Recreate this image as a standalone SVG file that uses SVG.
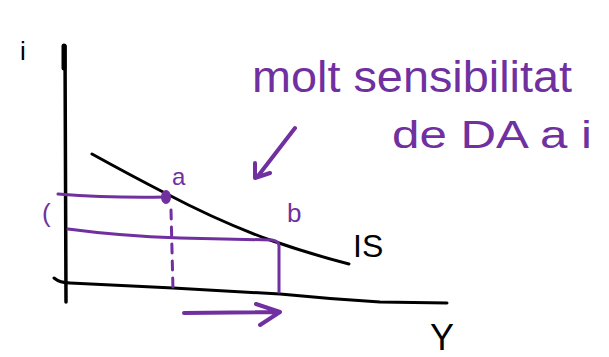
<svg xmlns="http://www.w3.org/2000/svg" width="609" height="357" viewBox="0 0 609 357">
<style>
.k{fill:none;stroke:#000;stroke-width:3;stroke-linecap:round;stroke-linejoin:round}
.p{fill:none;stroke:#7030A0;stroke-width:3;stroke-linecap:round;stroke-linejoin:round}
.tk{font-family:"Liberation Sans",Arial,sans-serif;fill:#000}
.tp{font-family:"Liberation Sans",Arial,sans-serif;fill:#7030A0}
</style>
<rect width="609" height="357" fill="#fff"/>
<g id="axes">
<path class="k" d="M65,46 L66,302" style="stroke-width:3.5"/>
<path class="k" d="M64,46 L64,68" style="stroke-width:5"/>
<path class="k" d="M54,278 Q60,283 70,283 L173,288 L280,294 Q330,299 380,302 L447,303"/>
</g>
<g id="is-curve">
<path class="k" d="M92,154 Q130,175 165,193 Q220,222 270,240 Q310,254 349,264"/>
</g>
<g id="labels-black">
<text class="tk" x="20" y="60" font-size="26">i</text>
<text class="tk" x="353" y="257" font-size="32">IS</text>
<text class="tk" x="430" y="350" font-size="36">Y</text>
</g>
<g id="connectors">
<path class="p" d="M58,194 Q110,198 165,197"/>
<path class="p" d="M68,229 Q120,236 180,238 L272,240 Q279,241 279,246 L279,292"/>
<path class="p" d="M171,210 L173,290" stroke-dasharray="9,8"/>
<path class="p" d="M184,313 L280,312 M256,304 L280,312 L260,325" style="stroke-width:4"/>
<path class="p" d="M295,128 L258,176 M255,163 L255,178 L270,173" style="stroke-width:4"/>
</g>
<g id="point-a">
<ellipse cx="166" cy="197" rx="5" ry="7" fill="#7030A0"/>
<text class="tp" x="172" y="185" font-size="24">a</text>
</g>
<g id="point-b">
<text class="tp" x="287" y="222" font-size="26">b</text>
</g>
<g id="label-i0">
<text class="tp" x="42" y="222" font-size="26">(</text>
</g>
<g id="annotation">
<text class="tp" x="252" y="92" font-size="44" textLength="320" lengthAdjust="spacingAndGlyphs">molt sensibilitat</text>
<text class="tp" x="392" y="148" font-size="38" textLength="200" lengthAdjust="spacingAndGlyphs">de DA a i</text>
</g>
</svg>
